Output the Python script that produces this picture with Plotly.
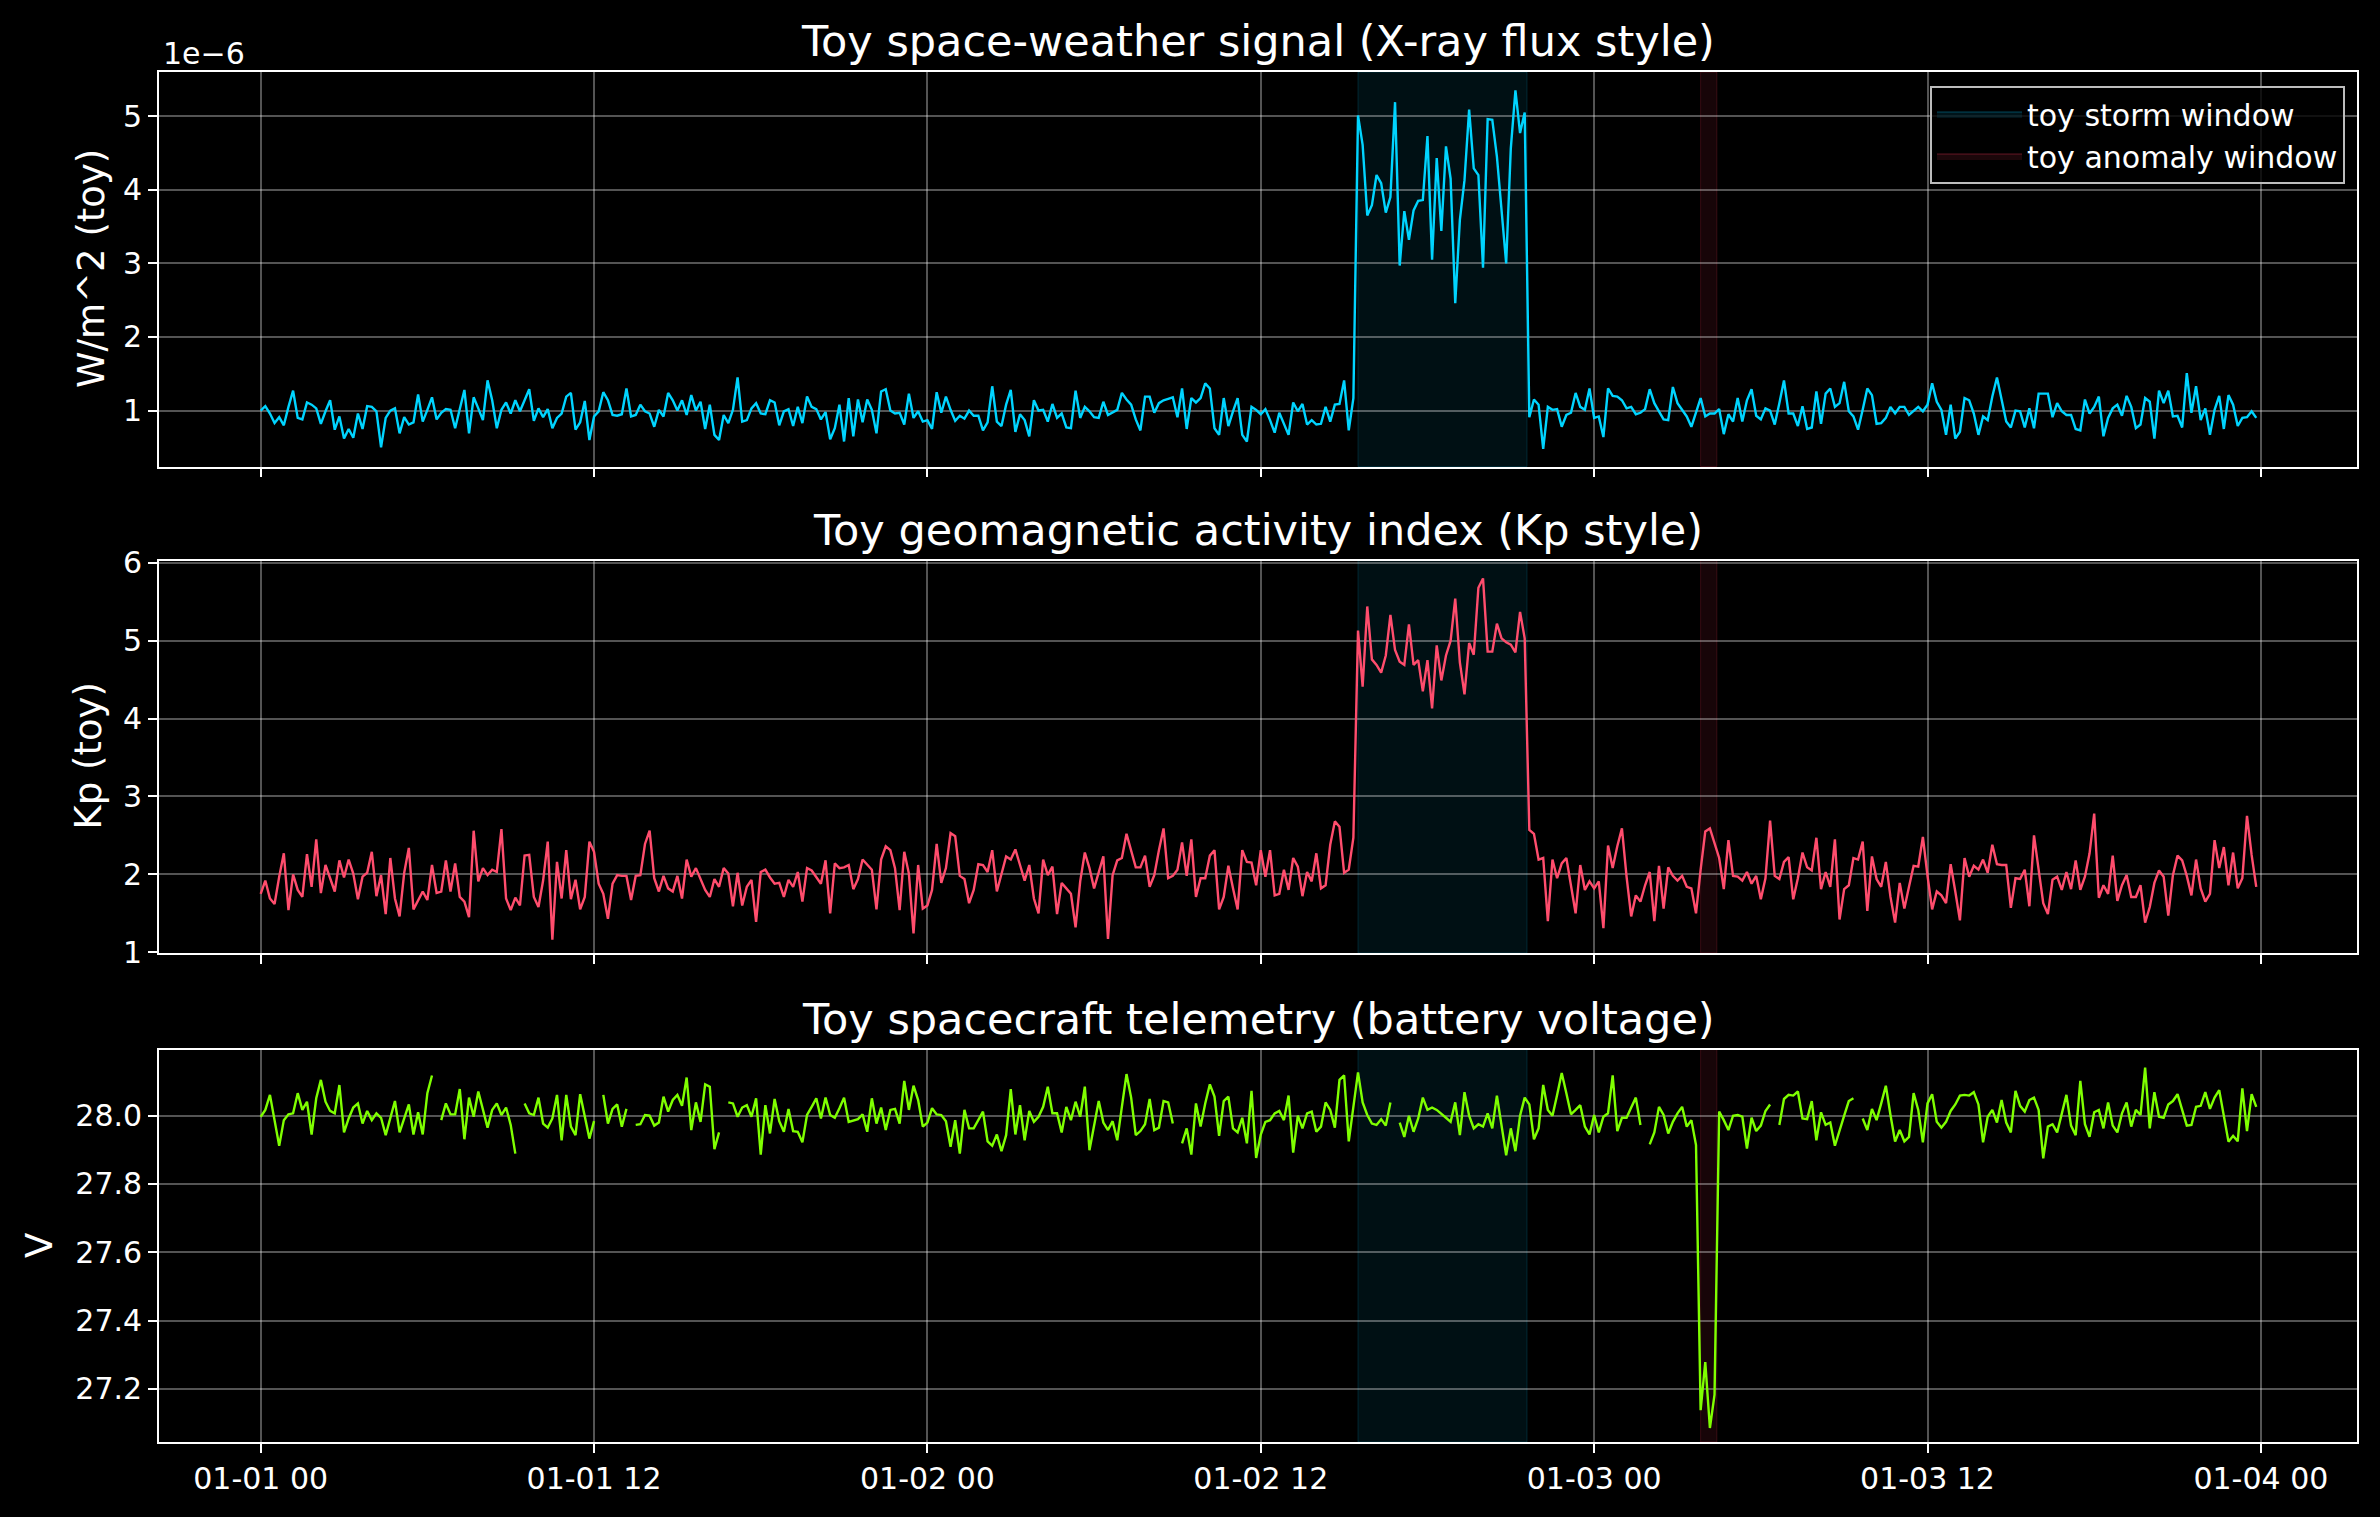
import numpy as np
import pandas as pd
import plotly.graph_objects as go
from plotly.subplots import make_subplots

# ---------------- data ----------------
START = "2024-01-01 00:00"
STEP = "10min"

# X-ray flux, in units of 1e-6 W/m^2
XRAY_E6 = [
    1.00,1.06,0.96,0.83,0.91,0.80,1.05,1.27,0.90,0.88,
    1.11,1.08,1.03,0.82,0.99,1.14,0.74,0.92,0.62,0.75,
    0.63,0.96,0.75,1.06,1.05,0.99,0.50,0.90,1.00,1.03,
    0.69,0.91,0.81,0.84,1.22,0.85,1.01,1.18,0.88,0.97,
    1.02,1.01,0.76,1.03,1.28,0.69,1.18,1.03,0.87,1.41,
    1.14,0.76,1.01,1.11,0.96,1.14,0.99,1.14,1.29,0.86,
    1.03,0.91,1.02,0.76,0.90,0.96,1.19,1.24,0.74,0.84,
    1.13,0.60,0.92,0.99,1.25,1.14,0.94,0.93,0.95,1.30,
    0.92,0.94,1.08,0.99,0.96,0.78,1.01,0.92,1.24,1.14,
    1.00,1.14,0.94,1.21,1.00,1.12,0.75,1.08,0.67,0.60,
    0.94,0.83,1.01,1.45,0.85,0.87,1.03,1.10,
    0.96,0.95,1.14,1.11,0.80,0.99,1.02,0.79,1.05,0.83,
    1.19,1.05,1.02,0.88,0.98,0.61,0.76,1.08,0.58,1.17,
    0.65,1.15,0.84,1.15,1.01,0.69,1.26,1.29,1.00,0.96,
    0.97,0.81,1.23,0.90,0.99,0.85,0.87,0.75,1.25,0.97,
    1.19,1.01,0.86,0.93,0.89,1.00,0.93,0.93,0.73,0.84,
    1.33,0.85,0.79,1.08,1.28,0.71,0.95,0.87,0.65,1.14,
    1.00,1.01,0.85,1.09,0.90,0.96,0.77,0.76,1.27,0.90,
    1.05,0.99,0.91,0.90,1.12,0.94,0.97,1.01,1.24,1.15,
    1.08,0.88,0.73,1.19,1.19,0.97,1.10,1.14,1.16,1.18,
    0.91,1.30,0.75,1.17,1.11,1.17,1.37,1.30,0.76,0.67,
    1.17,0.79,0.99,1.17,0.67,0.58,1.05,1.01,0.95,
    1.02,0.87,0.70,0.97,0.81,0.67,1.11,0.99,1.09,0.81,
    0.87,0.81,0.82,1.05,0.85,1.08,1.09,1.41,0.73,1.17,
    5.01,4.61,3.65,3.79,4.20,4.09,3.69,3.90,5.19,2.97,
    3.71,3.32,3.72,3.85,3.86,4.73,3.05,4.43,3.44,4.59,
    4.15,2.46,3.59,4.13,5.09,4.29,4.20,2.94,4.96,4.95,
    4.45,3.72,3.00,4.56,5.35,4.77,5.05,
    0.91,1.15,1.08,0.48,1.05,1.01,1.02,0.78,0.94,0.97,
    1.24,1.05,1.01,1.30,0.90,0.92,0.64,1.30,1.20,1.19,
    1.14,1.03,1.05,0.95,0.97,1.02,1.29,1.10,0.99,0.88,
    0.87,1.32,1.10,1.01,0.92,0.78,0.96,1.17,0.92,0.96,
    0.96,1.02,0.68,0.95,0.85,1.17,0.85,1.14,1.29,0.93,
    0.88,1.03,
    1.00,0.81,1.10,1.41,0.96,0.96,0.79,1.06,0.75,0.77,
    1.26,0.82,1.23,1.30,1.05,1.10,1.39,0.99,0.92,0.74,
    1.01,1.30,1.21,0.82,0.83,0.90,1.05,0.96,1.05,1.05,
    0.94,0.99,1.05,0.99,1.08,1.37,1.12,1.01,0.67,1.08,
    0.62,0.71,1.17,1.14,0.96,0.67,0.92,0.87,1.19,1.45,
    1.14,0.85,0.77,1.00,0.99,0.77,1.03,0.76,1.23,1.23,
    1.23,0.91,1.10,0.99,0.94,0.94,0.75,0.73,1.15,0.96,
    1.05,1.19,0.65,0.90,1.03,1.08,0.93,1.20,1.05,0.76,
    0.81,1.17,1.12,0.62,1.27,1.10,1.27,0.92,0.93,0.77,
    1.51,0.97,1.33,0.87,1.03,0.67,1.01,1.20,0.75,1.21,
    1.08,0.79,0.90,0.91,0.99,0.90,
]
XRAY_UNIT = 1e-6

KP = [
    1.75,1.92,1.69,1.62,1.97,2.27,1.54,2.00,1.80,1.71,
    2.26,1.84,2.45,1.76,2.12,1.95,1.78,2.18,1.96,2.19,
    2.01,1.68,1.97,2.02,2.29,1.72,1.99,1.49,2.21,1.69,
    1.46,2.02,2.34,1.55,1.67,1.78,1.67,2.12,1.76,1.78,
    2.18,1.78,2.14,1.71,1.65,1.45,2.56,1.91,2.08,1.99,
    2.06,2.03,2.58,1.69,1.54,1.70,1.60,2.24,2.25,1.71,
    1.58,1.92,2.42,1.16,2.16,1.69,2.31,1.68,1.93,1.55,
    1.71,2.42,2.29,1.88,1.75,1.43,1.88,1.99,1.98,1.98,
    1.67,1.98,1.99,2.39,2.56,1.95,1.78,1.98,1.82,1.78,
    1.98,1.69,2.19,1.97,2.08,1.94,1.80,1.71,1.94,1.84,
    2.08,2.01,1.59,2.02,1.60,1.84,1.93,1.39,
    2.03,2.06,1.96,1.88,1.89,1.71,1.93,1.84,2.03,1.65,
    2.08,2.05,1.96,1.88,2.18,1.50,2.14,2.08,2.09,2.12,
    1.81,1.94,2.19,2.12,2.06,1.55,2.19,2.36,2.31,2.08,
    1.54,2.29,2.01,1.24,2.12,1.56,1.60,1.80,2.39,1.89,
    2.08,2.53,2.49,1.98,1.94,1.63,1.80,2.13,2.12,2.03,
    2.31,1.78,2.01,2.23,2.19,2.32,2.12,1.92,2.12,1.69,
    1.50,2.19,1.99,2.10,1.49,1.89,1.82,1.75,1.32,1.91,
    2.28,2.08,1.82,2.02,2.23,1.17,1.99,2.18,2.21,2.52,
    2.32,2.09,2.09,2.24,1.84,1.99,2.31,2.59,1.95,1.98,
    2.06,2.41,1.98,2.45,1.71,1.95,1.95,2.24,2.31,1.55,
    1.71,2.11,1.82,1.55,2.31,2.16,2.15,1.86,2.31,
    1.97,2.31,1.73,1.75,2.06,1.80,2.21,2.10,1.72,2.03,
    1.91,2.27,1.82,1.86,2.38,2.68,2.61,2.02,2.06,2.47,
    5.13,4.41,5.44,4.76,4.69,4.59,4.81,5.33,4.88,4.73,
    4.69,5.21,4.69,4.75,4.35,4.75,4.13,4.94,4.49,4.81,
    5.00,5.54,4.72,4.31,4.97,4.82,5.68,5.80,4.86,4.86,
    5.22,5.03,4.98,4.95,4.85,5.37,5.03,
    2.57,2.52,2.19,2.21,1.40,2.19,1.95,2.14,2.21,1.86,
    1.50,2.12,1.80,1.91,1.82,1.91,1.31,2.37,2.08,2.36,
    2.59,1.97,1.46,1.73,1.65,1.86,2.03,1.40,2.11,1.56,
    2.09,1.98,1.92,1.98,1.84,1.82,1.50,2.06,2.55,2.59,
    2.40,2.21,1.81,2.44,1.98,1.97,1.92,2.03,1.88,1.98,
    1.68,1.95,
    2.69,1.98,1.94,2.16,2.22,1.68,1.95,2.28,2.09,2.05,
    2.47,1.81,2.03,1.84,2.45,1.42,1.81,1.86,2.21,2.19,
    2.42,1.53,2.23,1.94,1.84,2.16,1.71,1.38,1.89,1.56,
    1.84,2.11,2.10,2.48,1.98,1.55,1.78,1.73,1.63,2.13,
    1.78,1.41,2.21,1.97,2.11,2.06,2.19,2.02,2.38,2.13,
    2.12,2.12,1.57,1.95,1.94,2.06,1.59,2.50,2.06,1.63,
    1.49,1.93,1.97,1.80,2.03,1.81,2.18,1.80,1.97,2.27,
    2.78,1.70,1.86,1.75,2.24,1.66,1.86,1.99,1.71,1.71,
    1.86,1.38,1.58,1.89,2.05,1.97,1.47,1.99,2.24,2.18,
    1.98,1.73,2.19,1.82,1.65,1.75,2.44,2.08,2.35,1.86,
    2.28,1.82,1.95,2.75,2.25,1.84,
]

# battery voltage (None = telemetry dropout)
VOLT = [
    27.997,28.017,28.061,27.987,27.912,27.987,28.004,28.007,28.066,28.017,
    28.041,27.945,28.051,28.105,28.041,28.014,28.007,28.090,27.951,27.992,
    28.024,28.036,27.977,28.014,27.987,28.007,27.994,27.943,27.997,28.043,
    27.951,27.990,28.033,27.945,28.010,27.945,28.066,28.118,None,27.987,
    28.036,28.004,28.004,28.078,27.931,28.053,27.997,28.071,28.017,27.965,
    28.017,28.036,28.002,28.024,27.973,27.889,None,28.036,28.007,28.002,
    28.053,27.977,27.965,27.992,28.061,27.928,28.061,27.968,27.943,28.063,
    27.994,27.933,27.984,None,28.061,27.977,28.020,28.033,27.968,28.020,
    None,27.973,27.975,28.002,28.000,27.971,27.980,28.056,28.012,28.046,
    28.061,28.029,28.112,27.958,28.039,27.982,28.092,28.085,27.902,27.951,
    None,28.039,28.036,27.997,28.024,28.031,27.997,28.051,
    27.886,28.031,27.948,28.049,27.984,27.953,28.020,27.955,27.953,27.922,
    28.002,28.026,28.051,27.992,28.053,28.002,27.994,28.022,28.053,27.982,
    27.987,27.990,28.004,27.953,28.051,27.977,28.024,27.958,28.017,28.020,
    27.977,28.102,28.017,28.088,28.046,27.968,27.980,28.022,28.004,28.002,
    27.984,27.909,27.987,27.889,28.017,27.963,27.963,27.987,28.012,27.925,
    27.912,27.945,27.896,27.943,28.078,27.945,28.031,27.928,28.014,27.982,
    27.997,28.026,28.085,28.007,28.007,27.951,28.026,27.987,28.041,27.997,
    28.085,27.899,27.973,28.043,27.980,27.958,27.984,27.928,28.026,28.122,
    28.053,27.943,27.955,27.975,28.049,27.958,27.965,28.043,28.039,27.977,
    None,27.919,27.963,27.886,28.036,27.968,28.036,28.092,28.056,27.941,
    28.043,28.056,27.963,27.951,27.994,27.919,28.073,27.876,27.945,
    27.982,27.987,28.007,28.014,27.987,28.059,27.892,28.000,27.963,28.007,
    28.012,27.953,27.968,28.039,28.017,27.965,28.105,28.118,27.925,28.026,
    28.127,28.039,28.002,27.977,27.973,27.990,27.971,28.039,None,
    27.980,27.938,28.000,27.953,27.992,28.053,28.017,28.024,28.017,28.004,
    27.994,27.982,28.039,27.943,28.069,28.000,27.963,27.975,27.968,28.007,
    27.963,28.059,27.973,27.884,27.963,27.896,28.000,28.053,28.033,27.931,
    27.963,28.090,28.017,28.000,28.061,28.125,28.066,28.004,28.017,28.031,
    27.968,27.945,28.002,27.951,27.997,28.007,28.118,27.955,27.994,27.994,
    28.024,28.053,27.973,None,
    27.916,27.951,28.026,28.002,27.948,27.982,28.007,28.026,27.968,27.987,
    27.914,27.137,27.278,27.085,27.183,
    28.012,27.987,27.958,28.000,28.002,27.997,27.904,27.994,27.955,27.971,28.014,
    28.033,None,
    27.973,28.049,28.061,28.059,28.071,27.992,27.990,28.043,27.928,28.010,
    27.973,27.980,27.912,27.953,28.000,28.043,28.051,None,
    27.992,27.958,28.020,27.987,28.036,28.088,28.002,27.924,27.958,27.925,
    27.938,28.066,28.017,27.922,28.036,28.063,27.982,27.965,27.982,28.014,
    28.033,28.059,28.061,28.059,28.069,28.033,27.922,27.997,28.017,27.980,
    28.046,27.980,27.951,28.073,28.029,28.012,28.046,28.053,28.017,27.875,
    27.968,27.975,27.951,28.010,28.061,27.971,27.943,28.102,27.975,27.938,
    28.010,28.017,27.963,28.039,27.971,27.951,28.007,28.039,27.968,28.017,
    28.002,28.141,27.963,28.069,27.997,27.994,28.033,28.043,28.063,28.017,
    27.971,27.973,28.026,28.029,28.069,28.020,28.053,28.075,28.002,27.924,
    27.941,27.925,28.080,27.955,28.063,28.026,
]

STORM = ("2024-01-02 15:30", "2024-01-02 21:35")
ANOMALY = ("2024-01-03 03:50", "2024-01-03 04:25")
XTICK_HOURS = [0, 12, 24, 36, 48, 60, 72]

TITLES = ["Toy space-weather signal (X-ray flux style)",
          "Toy geomagnetic activity index (Kp style)",
          "Toy spacecraft telemetry (battery voltage)"]
YLABELS = ["W/m^2 (toy)", "Kp (toy)", "V"]
LEGEND_NAMES = ["toy storm window", "toy anomaly window"]

# ---------------- figure ----------------
W, H = 2380, 1517
ML, MR, MT, MB = 159, 23, 72, 75
PW, PH = W - ML - MR, H - MT - MB
FONT = "DejaVu Sans"

def py(p):  # pixel y -> paper y
    return (H - MB - p) / PH

def px(p):  # pixel x -> paper x
    return (p - ML) / PW

n = max(len(XRAY_E6), len(KP), len(VOLT))
t = pd.date_range(START, periods=n, freq=STEP)
t0 = pd.Timestamp(START)

fig = make_subplots(rows=3, cols=1, shared_xaxes=True)

C_X, C_K, C_V = "#00d4ff", "#ff4d6d", "#7fff00"
fig.add_trace(go.Scatter(x=t[:len(XRAY_E6)], y=np.array(XRAY_E6) * XRAY_UNIT, mode="lines",
                         line=dict(color=C_X, width=2.4), showlegend=False, hoverinfo="skip"),
              row=1, col=1)
fig.add_trace(go.Scatter(x=t[:len(KP)], y=KP, mode="lines",
                         line=dict(color=C_K, width=2.4), showlegend=False, hoverinfo="skip"),
              row=2, col=1)
fig.add_trace(go.Scatter(x=t[:len(VOLT)], y=VOLT, mode="lines", connectgaps=False,
                         line=dict(color=C_V, width=2.4), showlegend=False, hoverinfo="skip"),
              row=3, col=1)

STORM_FILL, STORM_EDGE = "rgba(0,200,255,0.08)", "rgba(0,200,255,0.16)"
ANOM_FILL, ANOM_EDGE = "rgba(255,60,90,0.09)", "rgba(255,60,90,0.18)"
shapes = []
for r, yref in zip((1, 2, 3), ("y domain", "y2 domain", "y3 domain")):
    xref = "x" if r == 1 else f"x{r}"
    for (a, b), fc, ec in ((STORM, STORM_FILL, STORM_EDGE), (ANOMALY, ANOM_FILL, ANOM_EDGE)):
        shapes.append(dict(type="rect", xref=xref, yref=yref, x0=a, x1=b, y0=0, y1=1,
                           fillcolor=fc, line=dict(color=ec, width=1), layer="below"))

# legend entries (patches)
fig.add_trace(go.Scatter(x=[None], y=[None], mode="lines", fill="toself", fillcolor="rgba(0,200,255,0.10)",
                         line=dict(color="rgba(0,200,255,0.22)", width=1.5),
                         name=LEGEND_NAMES[0], showlegend=True), row=1, col=1)
fig.add_trace(go.Scatter(x=[None], y=[None], mode="lines", fill="toself", fillcolor="rgba(255,60,90,0.11)",
                         line=dict(color="rgba(255,60,90,0.24)", width=1.5),
                         name=LEGEND_NAMES[1], showlegend=True), row=1, col=1)

xr = [t0 - pd.Timedelta(hours=3.66), t0 + pd.Timedelta(hours=75.46)]
tickvals = [t0 + pd.Timedelta(hours=h) for h in XTICK_HOURS]
ticktext = [v.strftime("%m-%d %H") for v in tickvals]

axis_common = dict(showline=True, linecolor="white", linewidth=1.8, mirror=True,
                   showgrid=True, gridcolor="rgba(255,255,255,0.33)", gridwidth=1.6,
                   zeroline=False, ticks="outside", ticklen=9, tickwidth=1.8, tickcolor="white",
                   tickfont=dict(family=FONT, size=30, color="white"))
fig.update_xaxes(range=xr, tickvals=tickvals, ticktext=ticktext, **axis_common)
fig.update_xaxes(showticklabels=False, row=1, col=1)
fig.update_xaxes(showticklabels=False, row=2, col=1)
fig.update_xaxes(showticklabels=True, row=3, col=1)

fig.update_yaxes(**axis_common)
fig.update_yaxes(range=[0.24e-6, 5.60e-6], tickvals=[k * XRAY_UNIT for k in range(1, 6)],
                 ticktext=[str(k) for k in range(1, 6)], row=1, col=1)
fig.update_yaxes(range=[0.99, 6.03], tickvals=[1, 2, 3, 4, 5, 6], row=2, col=1)
fig.update_yaxes(range=[27.044, 28.194], tickvals=[27.2, 27.4, 27.6, 27.8, 28.0],
                 tickformat=".1f", row=3, col=1)

fig.update_layout(
    yaxis=dict(domain=[py(466.5), 1.0]),
    yaxis2=dict(domain=[py(953), py(560.5)]),
    yaxis3=dict(domain=[0.0, py(1049.5)]),
)

ann = []
for title, pyc in zip(TITLES, [41, 530, 1018.5]):
    ann.append(dict(text=title, x=0.5, y=py(pyc), xref="paper", yref="paper",
                    xanchor="center", yanchor="middle", showarrow=False,
                    font=dict(family=FONT, size=43, color="white")))
for lab, pxc, pyc in zip(YLABELS, [91, 88, 39.5], [269, 756.5, 1245.5]):
    ann.append(dict(text=lab, x=px(pxc), y=py(pyc), xref="paper", yref="paper", textangle=-90,
                    xanchor="center", yanchor="middle", showarrow=False,
                    font=dict(family=FONT, size=37, color="white")))
ann.append(dict(text="1e\u22126", x=px(161), y=py(53), xref="paper", yref="paper",
                xanchor="left", yanchor="middle", showarrow=False,
                font=dict(family=FONT, size=30, color="white")))

fig.update_layout(
    width=W, height=H,
    paper_bgcolor="black", plot_bgcolor="black",
    margin=dict(l=ML, r=MR, t=MT, b=MB),
    font=dict(family=FONT, color="white", size=30),
    annotations=ann,
    shapes=shapes,
    showlegend=True,
    legend=dict(x=px(2345), y=py(86), xanchor="right", yanchor="top",
                bgcolor="rgba(0,0,0,0.8)", bordercolor="#bdbdbd", borderwidth=2,
                font=dict(family=FONT, size=30, color="white"), tracegroupgap=6,
                itemwidth=85),
)

fig.write_html("out.html", config={"displayModeBar": False},
               post_script="document.body.style.margin='0';document.body.style.overflow='hidden';")
